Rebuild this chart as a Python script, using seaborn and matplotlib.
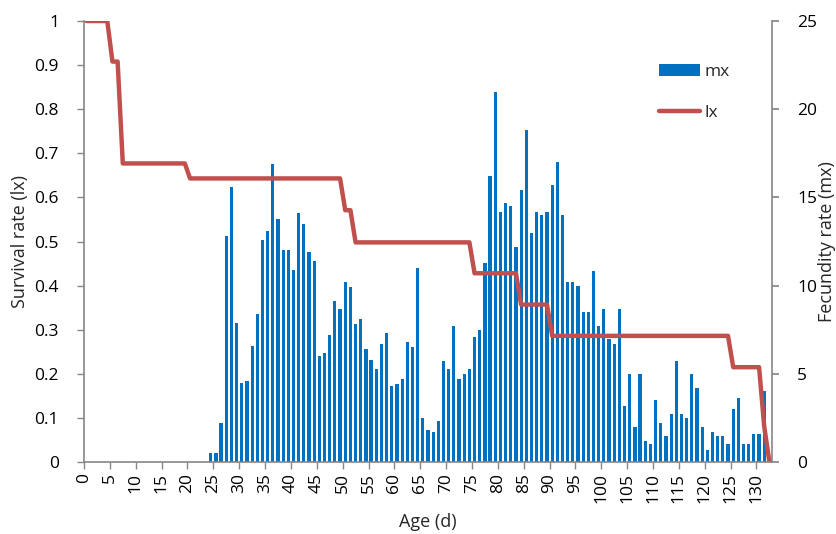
import numpy as np
import matplotlib
matplotlib.use('Agg')
import matplotlib.pyplot as plt
from matplotlib.patches import Patch
from matplotlib.lines import Line2D
import seaborn as sns

# ── Style ──────────────────────────────────────────────────────────────────
sns.set_theme(style='white')
plt.rcParams['font.family'] = ['Open Sans', 'DejaVu Sans']
plt.rcParams['font.size'] = 12.5

# ── Data (life table by age in days) ───────────────────────────────────────
ages = list(range(133))

# fecundity rate mx (right axis)
mx = [
    0, 0, 0, 0, 0, 0, 0, 0, 0, 0,
    0, 0, 0, 0, 0, 0, 0, 0, 0, 0,
    0, 0, 0, 0, 0.5, 0.5, 2.2, 12.8, 15.6, 7.9,
    4.5, 4.6, 6.6, 8.4, 12.6, 13.1, 16.9, 13.8, 12.0, 12.0,
    10.9, 14.1, 13.5, 11.9, 11.4, 6.0, 6.2, 7.2, 9.1, 8.7,
    10.2, 9.9, 7.8, 8.1, 6.4, 5.8, 5.3, 6.7, 7.3, 4.3,
    4.4, 4.7, 6.8, 6.5, 11.0, 2.5, 1.8, 1.7, 2.3, 5.7,
    5.3, 7.7, 4.7, 5.0, 5.3, 7.1, 7.5, 11.3, 16.2, 21.0,
    14.2, 14.7, 14.5, 12.2, 15.4, 18.8, 13.0, 14.2, 14.0, 14.2,
    15.7, 17.0, 14.0, 10.2, 10.2, 10.0, 8.5, 8.5, 10.8, 7.7,
    8.7, 7.0, 6.7, 8.7, 3.2, 5.0, 2.0, 5.0, 1.2, 1.0,
    3.5, 2.2, 1.5, 2.7, 5.7, 2.7, 2.5, 5.0, 4.2, 2.0,
    0.7, 1.7, 1.5, 1.5, 1.0, 3.0, 3.6, 1.0, 1.0, 1.6,
    1.6, 4.0, 0,
]

# survival rate lx (left axis)
lx = [
    1.0, 1.0, 1.0, 1.0, 1.0, 0.908, 0.908, 0.677, 0.677, 0.677,
    0.677, 0.677, 0.677, 0.677, 0.677, 0.677, 0.677, 0.677, 0.677, 0.677,
    0.643, 0.643, 0.643, 0.643, 0.643, 0.643, 0.643, 0.643, 0.643, 0.643,
    0.643, 0.643, 0.643, 0.643, 0.643, 0.643, 0.643, 0.643, 0.643, 0.643,
    0.643, 0.643, 0.643, 0.643, 0.643, 0.643, 0.643, 0.643, 0.643, 0.643,
    0.571, 0.571, 0.498, 0.498, 0.498, 0.498, 0.498, 0.498, 0.498, 0.498,
    0.498, 0.498, 0.498, 0.498, 0.498, 0.498, 0.498, 0.498, 0.498, 0.498,
    0.498, 0.498, 0.498, 0.498, 0.498, 0.428, 0.428, 0.428, 0.428, 0.428,
    0.428, 0.428, 0.428, 0.428, 0.357, 0.357, 0.357, 0.357, 0.357, 0.357,
    0.286, 0.286, 0.286, 0.286, 0.286, 0.286, 0.286, 0.286, 0.286, 0.286,
    0.286, 0.286, 0.286, 0.286, 0.286, 0.286, 0.286, 0.286, 0.286, 0.286,
    0.286, 0.286, 0.286, 0.286, 0.286, 0.286, 0.286, 0.286, 0.286, 0.286,
    0.286, 0.286, 0.286, 0.286, 0.286, 0.215, 0.215, 0.215, 0.215, 0.215,
    0.215, 0.08, 0.0,
]

x_tick_labels = list(range(0, 131, 5))
lx_ticks = [0, 0.1, 0.2, 0.3, 0.4, 0.5, 0.6, 0.7, 0.8, 0.9, 1]
lx_tick_labels = ['0', '0.1', '0.2', '0.3', '0.4', '0.5', '0.6', '0.7', '0.8', '0.9', '1']
mx_ticks = [0, 5, 10, 15, 20, 25]

BAR_C = '#0070C0'
LINE_C = '#C0504D'
AXIS_C = '#868686'

# ── Figure ─────────────────────────────────────────────────────────────────
fig = plt.figure(figsize=(8.37, 5.34), dpi=100)
ax = fig.add_axes([84 / 837, 1 - 462 / 534, (772 - 84) / 837, (462 - 21) / 534])
ax2 = ax.twinx()

sns.barplot(x=ages, y=mx, ax=ax2, color=BAR_C, saturation=1, width=0.62,
            linewidth=0, edgecolor='none')
sns.lineplot(x=ages, y=lx, ax=ax, color=LINE_C, linewidth=3.2)

# line in front of the bars
ax.set_zorder(ax2.get_zorder() + 1)
ax.patch.set_visible(False)

ax.set_xlim(-0.5, 132.5)
ax.set_xticks(np.array(x_tick_labels) - 0.5)
ax.set_xticklabels([str(v) for v in x_tick_labels], rotation=90)
ax.set_ylim(0, 1)
ax.set_yticks(lx_ticks)
ax.set_yticklabels(lx_tick_labels)
ax2.set_ylim(0, 25)
ax2.set_yticks(mx_ticks)
ax2.set_yticklabels([str(v) for v in mx_ticks])

ax.set_xlabel('Age (d)', fontsize=13)
ax.set_ylabel('Survival rate (lx)', fontsize=13)
ax2.set_ylabel('Fecundity rate (mx)', fontsize=13)
ax2.set_xlabel('')

# axis titles centred where the reference puts them
ax.xaxis.label.set_va('center')
ax.xaxis.set_label_coords(0.5, -60 / 441)
ax.yaxis.label.set_va('center')
ax.yaxis.set_label_coords(-64 / 688, 0.5)
ax2.yaxis.label.set_va('center')
ax2.yaxis.set_label_coords(1 + 55 / 688, 0.5)

for a in (ax, ax2):
    for s in a.spines.values():
        s.set_visible(False)
        s.set_color(AXIS_C)
        s.set_linewidth(1.2)
    a.grid(False)
ax.spines['left'].set_visible(True)
ax.spines['bottom'].set_visible(True)
ax2.spines['right'].set_visible(True)

ax.tick_params(axis='both', which='major', direction='out', length=5,
               color=AXIS_C, width=1, labelsize=12.5, labelcolor='black', pad=3)
ax.tick_params(axis='y', left=True, pad=13)
ax.tick_params(axis='x', bottom=True)
ax2.tick_params(axis='y', right=True, direction='out', length=5, color=AXIS_C,
                labelsize=12.5, labelcolor='black', pad=13)

handles = [Patch(facecolor=BAR_C, edgecolor='none', label='mx'),
           Line2D([0], [0], color=LINE_C, linewidth=3.2, label='lx')]
fig.legend(handles=handles, loc='upper left', bbox_to_anchor=(643 / 837, 1 - 48 / 534),
           frameon=False, fontsize=12.5, handlelength=2.4, handleheight=0.7,
           handletextpad=0.25, labelspacing=1.45)

plt.savefig('out.png', dpi=100)
plt.close()
